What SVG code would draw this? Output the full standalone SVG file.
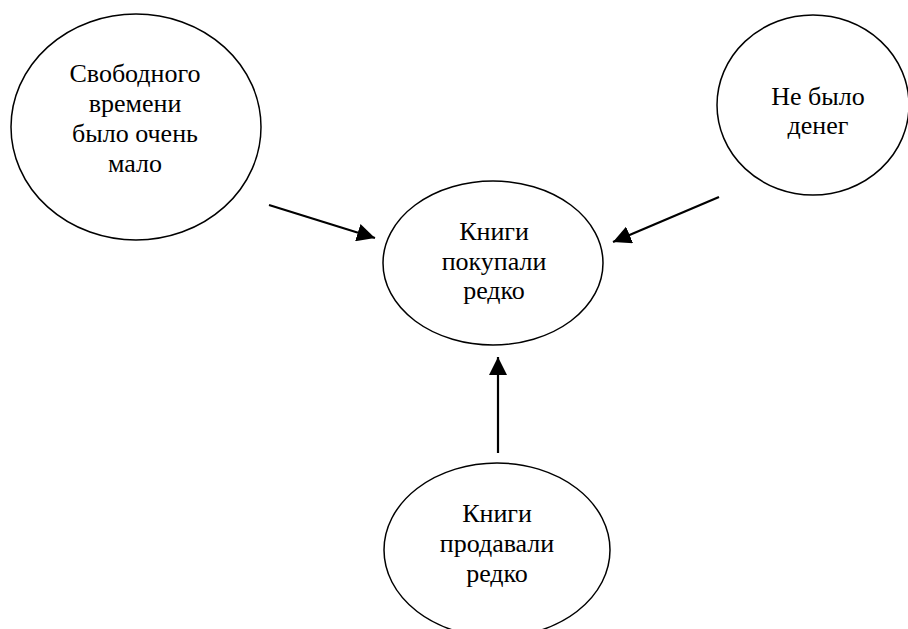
<svg xmlns="http://www.w3.org/2000/svg" width="908" height="629" viewBox="0 0 908 629">
<style>
.node{fill:#fff;stroke:#000;stroke-width:1.5}
.lbl{font-family:'Liberation Serif','Times New Roman','DejaVu Serif',serif;font-size:26px;fill:#000;text-anchor:middle}
.conn{stroke:#000;stroke-width:2.2;fill:none}
</style>
<defs>
<marker id="ah" markerUnits="userSpaceOnUse" markerWidth="18" markerHeight="18" viewBox="0 0 16 16" refX="16" refY="8" orient="auto">
<path d="M0,0 L16,8 L0,16 Z" fill="#000"/>
</marker>
</defs>
<rect width="908" height="629" fill="#fff"/>
<g id="n-free-time">
<ellipse class="node" cx="136" cy="127" rx="125" ry="113"/>
<text class="lbl" x="135" y="82">Свободного</text>
<text class="lbl" x="135" y="112">времени</text>
<text class="lbl" x="135" y="142">было очень</text>
<text class="lbl" x="135" y="172">мало</text>
</g>
<g id="n-no-money">
<ellipse class="node" cx="813" cy="105" rx="96" ry="90"/>
<text class="lbl" x="818" y="105">Не было</text>
<text class="lbl" x="818" y="134">денег</text>
</g>
<g id="n-bought">
<ellipse class="node" cx="493" cy="263" rx="110" ry="82"/>
<text class="lbl" x="494" y="240">Книги</text>
<text class="lbl" x="494" y="270">покупали</text>
<text class="lbl" x="494" y="299">редко</text>
</g>
<g id="n-sold">
<ellipse class="node" cx="497" cy="550" rx="113" ry="87"/>
<text class="lbl" x="497" y="522">Книги</text>
<text class="lbl" x="497" y="552">продавали</text>
<text class="lbl" x="497" y="582">редко</text>
</g>
<g id="connectors">
<line class="conn" x1="269" y1="205" x2="375" y2="238" marker-end="url(#ah)"/>
<line class="conn" x1="719" y1="197" x2="613" y2="242" marker-end="url(#ah)"/>
<line class="conn" x1="498" y1="453" x2="498" y2="357" marker-end="url(#ah)"/>
</g>
</svg>
